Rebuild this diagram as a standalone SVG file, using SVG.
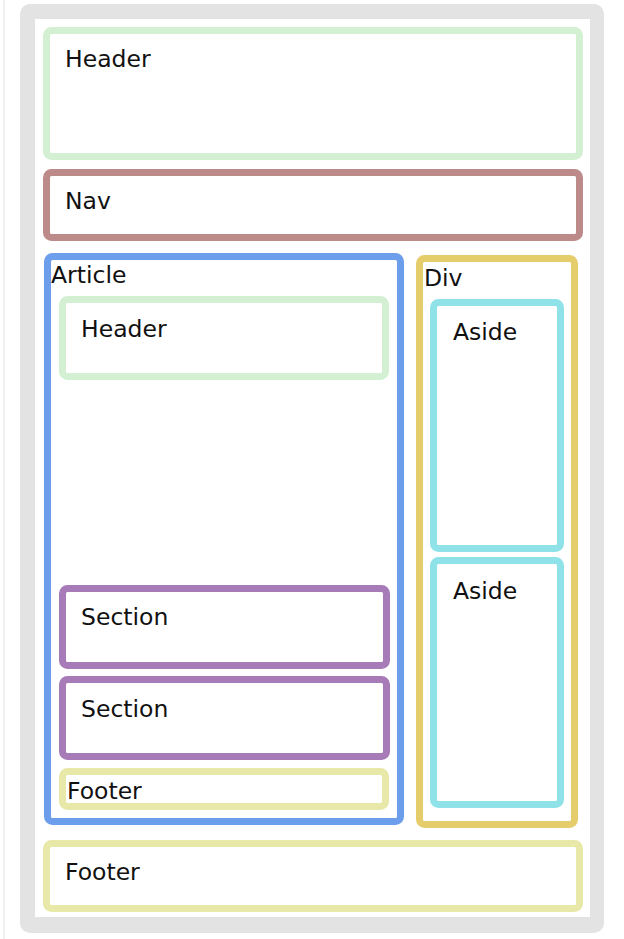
<svg xmlns="http://www.w3.org/2000/svg" width="624" height="939" viewBox="0 0 624 939">
<style>
.box{fill:#ffffff;stroke-width:7}
.lbl{font-family:"DejaVu Sans","Liberation Sans",sans-serif;font-size:23.5px;fill:#111111}
.green{stroke:#d3f0d3}
.nav{stroke:#bc8b89}
.blue{stroke:#6d9eeb}
.purple{stroke:#a67bb8}
.foot{stroke:#e8e8a8}
.gold{stroke:#e6cd6b}
.cyan{stroke:#8fe3e8}
</style>
<rect x="0" y="0" width="624" height="939" fill="#ffffff"/>
<rect x="3" y="0" width="2" height="939" fill="#f1f1f1"/>
<g id="page">
<rect x="20" y="4" width="584" height="929" rx="10" fill="#e3e3e3"/>
<rect x="35" y="19" width="555" height="898" fill="#ffffff"/>
</g>
<g id="header">
<rect class="box green" x="46.5" y="30.5" width="533" height="126" rx="5"/>
<text class="lbl" x="65" y="67">Header</text>
</g>
<g id="nav">
<rect class="box nav" x="46.5" y="172.5" width="533" height="65" rx="5"/>
<text class="lbl" x="65" y="209">Nav</text>
</g>
<g id="article">
<rect class="box blue" x="47.5" y="256.5" width="353" height="565" rx="5"/>
<text class="lbl" x="51" y="283">Article</text>
</g>
<g id="article-header">
<rect class="box green" x="62.5" y="299.5" width="323" height="77" rx="5"/>
<text class="lbl" x="81" y="337">Header</text>
</g>
<g id="section1">
<rect class="box purple" x="62.5" y="588.5" width="324" height="77" rx="5"/>
<text class="lbl" x="81" y="625">Section</text>
</g>
<g id="section2">
<rect class="box purple" x="62.5" y="679.5" width="324" height="77" rx="5"/>
<text class="lbl" x="81" y="717">Section</text>
</g>
<g id="article-footer">
<rect class="box foot" x="62.5" y="771.5" width="323" height="35" rx="5"/>
<text class="lbl" x="67" y="799">Footer</text>
</g>
<g id="div">
<rect class="box gold" x="419.5" y="258.5" width="155" height="566" rx="5"/>
<text class="lbl" x="424" y="286">Div</text>
</g>
<g id="aside1">
<rect class="box cyan" x="433.5" y="302.5" width="127" height="246" rx="5"/>
<text class="lbl" x="453" y="340">Aside</text>
</g>
<g id="aside2">
<rect class="box cyan" x="433.5" y="560.5" width="127" height="244" rx="5"/>
<text class="lbl" x="453" y="599">Aside</text>
</g>
<g id="footer">
<rect class="box foot" x="46.5" y="843.5" width="533" height="65" rx="5"/>
<text class="lbl" x="65" y="880">Footer</text>
</g>
<g id="connectors"></g>
</svg>
